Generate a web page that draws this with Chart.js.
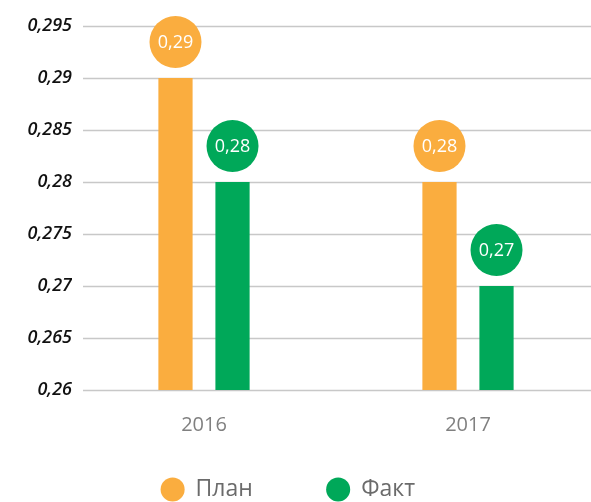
<!DOCTYPE html>
<html>
<head>
<meta charset="utf-8">
<script src="https://cdn.jsdelivr.net/npm/chart.js@4.4.1/dist/chart.umd.min.js"></script>
<style>
    html, body { margin: 0; padding: 0; background: #fff; overflow: hidden; }
    .chart-container { position: relative; width: 600px; height: 511px; }
</style>
</head>
<body>
<div class="chart-container"><canvas id="barChart"></canvas></div>
<script>
const years = ['2016', '2017'];
const plan = [0.29, 0.28];
const fact = [0.28, 0.27];
const yTicks = [0.26, 0.265, 0.27, 0.275, 0.28, 0.285, 0.29, 0.295];
const seriesNames = ['План', 'Факт'];

const orange = '#FAAD3F';
const green = '#00A859';

function toComma(v) {
    return String(+Number(v).toFixed(3)).replace('.', ',');
}

// horizontal grid lines, start a bit to the right of the tick labels
const gridLines = {
    id: 'gridLines',
    beforeDatasetsDraw(chart) {
        const ctx = chart.ctx;
        const y = chart.scales.y;
        const area = chart.chartArea;
        ctx.save();
        ctx.strokeStyle = '#c8c8c8';
        ctx.lineWidth = 1.5;
        y.ticks.forEach(t => {
            const py = Math.round(y.getPixelForValue(t.value)) + 0.5;
            ctx.beginPath();
            ctx.moveTo(area.left + 11, py);
            ctx.lineTo(area.right, py);
            ctx.stroke();
        });
        ctx.restore();
    }
};

// round value badges above the bars
const badges = {
    id: 'badges',
    afterDatasetsDraw(chart) {
        const ctx = chart.ctx;
        ctx.save();
        chart.data.datasets.forEach((ds, i) => {
            chart.getDatasetMeta(i).data.forEach((bar, j) => {
                const cx = bar.x, cy = bar.y - 36;
                ctx.beginPath();
                ctx.arc(cx, cy, 26, 0, Math.PI * 2);
                ctx.fillStyle = ds.backgroundColor;
                ctx.fill();
                ctx.fillStyle = '#fff';
                ctx.font = '18px "Open Sans"';
                ctx.textAlign = 'center';
                ctx.textBaseline = 'middle';
                ctx.fillText(toComma(ds.data[j]), cx, cy + 1);
            });
        });
        ctx.restore();
    }
};

const ctx = document.getElementById('barChart').getContext('2d');
const barChart = new Chart(ctx, {
    type: 'bar',
    data: {
        labels: years,
        datasets: [
            { label: seriesNames[0], data: plan, backgroundColor: orange, categoryPercentage: 0.432, barPercentage: 0.6 },
            { label: seriesNames[1], data: fact, backgroundColor: green, categoryPercentage: 0.432, barPercentage: 0.6 }
        ]
    },
    options: {
        responsive: true,
        maintainAspectRatio: false,
        animation: false,
        layout: { padding: { top: 26, left: 0, right: 0, bottom: 0 } },
        plugins: {
            tooltip: { enabled: false },
            legend: {
                position: 'bottom',
                labels: {
                    usePointStyle: true,
                    pointStyle: 'circle',
                    boxHeight: 17,
                    color: '#6b6b6b',
                    font: { family: '"Open Sans"', size: 23 },
                    padding: 26,
                    // extra room between the two legend items
                    generateLabels(chart) {
                        const items = Chart.defaults.plugins.legend.labels.generateLabels(chart);
                        items[0].text = items[0].text + '        ';
                        items[1].text = items[1].text + '    ';
                        return items;
                    }
                }
            }
        },
        scales: {
            x: {
                grid: { display: false },
                border: { display: false },
                ticks: { color: '#808080', font: { family: '"Open Sans"', size: 20 }, padding: 15 }
            },
            y: {
                min: 0.26,
                max: 0.295,
                grid: { display: false, drawTicks: false },
                border: { display: false },
                afterBuildTicks(scale) { scale.ticks = yTicks.map(v => ({ value: v })); },
                afterFit(scale) { scale.width = 72; },
                ticks: {
                    color: '#111',
                    padding: 0,
                    font: { family: '"Open Sans"', size: 18, style: 'italic', weight: '600' },
                    callback: v => toComma(v)
                }
            }
        }
    },
    plugins: [gridLines, badges]
});
</script>
</body>
</html>
